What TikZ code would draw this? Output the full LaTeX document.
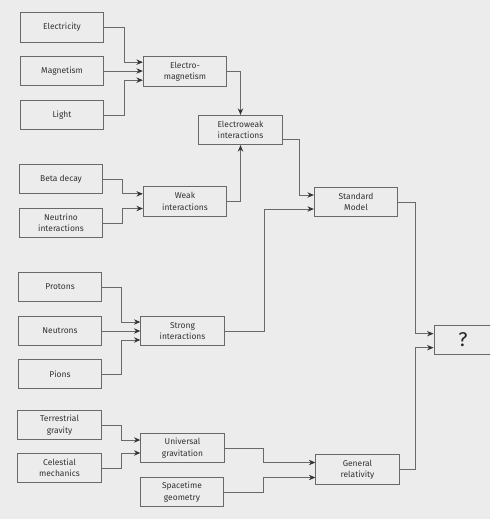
\documentclass[tikz,border=0pt]{standalone}
\usepackage{fontspec}
\setmainfont{Fira Sans}
\usepackage{tikz}
\usetikzlibrary{arrows.meta, positioning}
\definecolor{paper}{RGB}{236,236,236}
\definecolor{linegray}{RGB}{105,105,105}
\definecolor{textgray}{RGB}{50,50,50}

\begin{document}
\begin{tikzpicture}[
    x=0.03cm, y=-0.03cm,
    box/.style={draw=linegray, line width=0.8pt, fill=paper, minimum width=2.5cm, minimum height=0.88cm, inner sep=1pt, align=center, text=textgray, font=\fontsize{7.2}{9.6}\selectfont},
    qbox/.style={box, minimum width=1.74cm, text=black!85, font=\fontsize{17}{18}\selectfont},
    arr/.style={-{Stealth[length=5.5pt, width=4.6pt, color=black!80]}, draw=linegray, line width=0.8pt}
]
    \clip (0,0) rectangle (490,519);
    \fill[paper] (0,0) rectangle (490,519);

    % inputs
    \node[box] (elec) at (62,27.5) {Electricity};
    \node[box] (magn) at (62,71) {Magnetism};
    \node[box] (light) at (62,115) {Light};
    \node[box] (beta) at (61,179) {Beta decay};
    \node[box] (neutrino) at (61,223) {Neutrino\\interactions};
    \node[box] (prot) at (60,287) {Protons};
    \node[box] (neutr) at (60,331) {Neutrons};
    \node[box] (pions) at (60,374) {Pions};
    \node[box] (terr) at (59.5,425) {Terrestrial\\gravity};
    \node[box] (cel) at (59.5,468) {Celestial\\mechanics};

    % unifications
    \node[box] (em) at (185,71.5) {Electro-\\magnetism};
    \node[box] (ew) at (240.5,130) {Electroweak\\interactions};
    \node[box] (weak) at (185,201.5) {Weak\\interactions};
    \node[box] (sm) at (356,202) {Standard\\Model};
    \node[box] (strong) at (182.5,331) {Strong\\interactions};
    \node[box] (ug) at (182.5,448) {Universal\\gravitation};
    \node[box] (stg) at (182,492) {Spacetime\\geometry};
    \node[box] (gr) at (357.5,469.5) {General\\relativity};
    \node[qbox] (q) at (463,340) {?};

    \draw[arr] (elec.east) -- ++(20,0) |- ([yshift=2.8mm]em.west);
    \draw[arr] (magn.east) -- (magn.east -| em.west);
    \draw[arr] (light.east) -- ++(20,0) |- ([yshift=-2.6mm]em.west);

    \draw[arr] (beta.east) -- ++(19,0) |- ([yshift=2.3mm]weak.west);
    \draw[arr] (neutrino.east) -- ++(19,0) |- ([yshift=-2.1mm]weak.west);

    \draw[arr] (em.east) -| (ew.north);
    \draw[arr] (weak.east) -| (ew.south);

    \draw[arr] (prot.east) -- ++(19,0) |- ([yshift=2.7mm]strong.west);
    \draw[arr] (neutr.east) -- (neutr.east -| strong.west);
    \draw[arr] (pions.east) -- ++(19,0) |- ([yshift=-2.7mm]strong.west);

    \draw[arr] (terr.east) -- ++(20,0) |- ([yshift=2.4mm]ug.west);
    \draw[arr] (cel.east) -- ++(20,0) |- ([yshift=-1.5mm]ug.west);

    \draw[arr] ([yshift=-2.7mm]ew.east) -- ++(17,0) |- ([yshift=2.1mm]sm.west);
    \draw[arr] (strong.east) -- ++(40,0) |- ([yshift=-2.1mm]sm.west);

    \draw[arr] (ug.east) -- ++(39,0) |- ([yshift=2.1mm]gr.west);
    \draw[arr] (stg.east) -- ++(39,0) |- ([yshift=-2.4mm]gr.west);

    \draw[arr] (sm.east) -- ++(17,0) |- ([yshift=1.9mm]q.west);
    \draw[arr] (gr.east) -- ++(16,0) |- ([yshift=-2.3mm]q.west);
\end{tikzpicture}
\end{document}
